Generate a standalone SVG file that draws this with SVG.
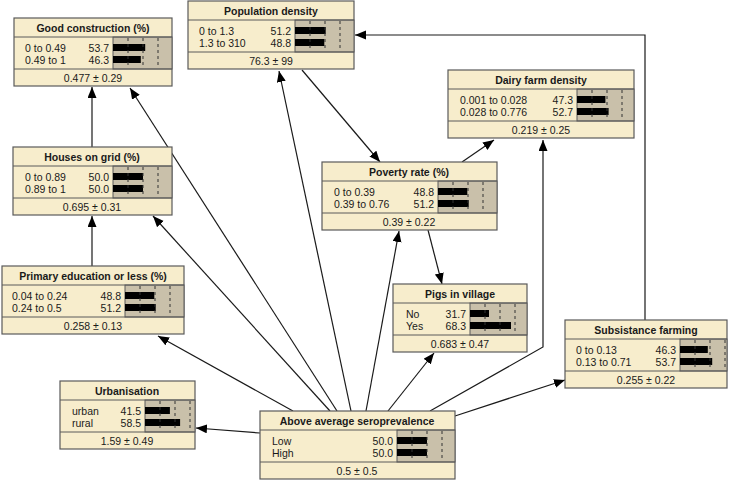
<svg xmlns="http://www.w3.org/2000/svg" width="740" height="480" viewBox="0 0 740 480">
<style>
.box{fill:#f7edcc;stroke:#5a5a5a;stroke-width:1.2}
.bg{fill:#c9c0aa;stroke:#5a5a5a;stroke-width:1}
.div{stroke:#5a5a5a;stroke-width:1}
.dash{stroke:#333;stroke-width:1;stroke-dasharray:3,3}
.bar{fill:#000}
.t{font-family:"Liberation Sans",Arial,sans-serif;font-size:10.5px;fill:#1a1a1a}
.ti{font-weight:bold;text-anchor:middle}
.c{text-anchor:middle}
.n{text-anchor:end}
.e{fill:none;stroke:#1a1a1a;stroke-width:1.2;marker-end:url(#ah)}
</style>
<defs>
<marker id="ah" markerUnits="userSpaceOnUse" markerWidth="12" markerHeight="10" refX="11" refY="4.5" orient="auto">
<path d="M0,0 L11,4.5 L0,9 Z" fill="#000"/>
</marker>
</defs>
<g id="connectors">
<path class="e" d="M92,147 L92,87"/>
<path class="e" d="M92,266 L92,216"/>
<path class="e" d="M337,411 L130,88"/>
<path class="e" d="M351,411 L279,71"/>
<path class="e" d="M330,411 L153,216"/>
<path class="e" d="M293,411 L158,336"/>
<path class="e" d="M260,433 L196,428"/>
<path class="e" d="M366,411 L399,231"/>
<path class="e" d="M388,411 L434,353"/>
<path class="e" d="M430,411 L543,347 L543,140"/>
<path class="e" d="M455,416 L565,380"/>
<path class="e" d="M302,70 L380,162"/>
<path class="e" d="M462,162 L494,140"/>
<path class="e" d="M428,230 L442,284"/>
<path class="e" d="M645,320 L645,35 L355,35"/>
</g>
<g id="good_construction">
<rect class="box" x="14" y="18" width="158" height="68"/>
<rect class="bg" x="113" y="37" width="59" height="32"/>
<line class="div" x1="14" y1="37" x2="172" y2="37"/><line class="div" x1="14" y1="69" x2="172" y2="69"/>
<rect class="bar" x="113" y="44" width="32.2" height="7"/><rect class="bar" x="113" y="56" width="27.8" height="7"/>
<line class="dash" x1="128" y1="38" x2="128" y2="68"/><line class="dash" x1="143" y1="38" x2="143" y2="68"/><line class="dash" x1="158" y1="38" x2="158" y2="68"/>
<text class="t ti" x="93" y="32">Good construction (%)</text>
<text class="t" x="25" y="52">0 to 0.49</text><text class="t n" x="109" y="52">53.7</text>
<text class="t" x="25" y="64">0.49 to 1</text><text class="t n" x="109" y="64">46.3</text>
<text class="t c" x="93" y="82">0.477 ± 0.29</text>
</g>
<g id="population_density">
<rect class="box" x="188" y="1" width="166" height="68"/>
<rect class="bg" x="295" y="20" width="59" height="32"/>
<line class="div" x1="188" y1="20" x2="354" y2="20"/><line class="div" x1="188" y1="52" x2="354" y2="52"/>
<rect class="bar" x="295" y="27" width="30.7" height="7"/><rect class="bar" x="295" y="39" width="29.3" height="7"/>
<line class="dash" x1="310" y1="21" x2="310" y2="51"/><line class="dash" x1="325" y1="21" x2="325" y2="51"/><line class="dash" x1="340" y1="21" x2="340" y2="51"/>
<text class="t ti" x="271" y="15">Population density</text>
<text class="t" x="199" y="35">0 to 1.3</text><text class="t n" x="291" y="35">51.2</text>
<text class="t" x="199" y="47">1.3 to 310</text><text class="t n" x="291" y="47">48.8</text>
<text class="t c" x="271" y="65">76.3 ± 99</text>
</g>
<g id="dairy_farm_density">
<rect class="box" x="448" y="70" width="186" height="68"/>
<rect class="bg" x="577" y="89" width="57" height="32"/>
<line class="div" x1="448" y1="89" x2="634" y2="89"/><line class="div" x1="448" y1="121" x2="634" y2="121"/>
<rect class="bar" x="577" y="96" width="28.4" height="7"/><rect class="bar" x="577" y="108" width="31.6" height="7"/>
<line class="dash" x1="592" y1="90" x2="592" y2="120"/><line class="dash" x1="607" y1="90" x2="607" y2="120"/><line class="dash" x1="622" y1="90" x2="622" y2="120"/>
<text class="t ti" x="541" y="84">Dairy farm density</text>
<text class="t" x="460" y="104">0.001 to 0.028</text><text class="t n" x="573" y="104">47.3</text>
<text class="t" x="460" y="116">0.028 to 0.776</text><text class="t n" x="573" y="116">52.7</text>
<text class="t c" x="541" y="134">0.219 ± 0.25</text>
</g>
<g id="houses_on_grid">
<rect class="box" x="13" y="147" width="159" height="68"/>
<rect class="bg" x="113" y="166" width="59" height="32"/>
<line class="div" x1="13" y1="166" x2="172" y2="166"/><line class="div" x1="13" y1="198" x2="172" y2="198"/>
<rect class="bar" x="113" y="173" width="30" height="7"/><rect class="bar" x="113" y="185" width="30" height="7"/>
<line class="dash" x1="128" y1="167" x2="128" y2="197"/><line class="dash" x1="143" y1="167" x2="143" y2="197"/><line class="dash" x1="158" y1="167" x2="158" y2="197"/>
<text class="t ti" x="92" y="161">Houses on grid (%)</text>
<text class="t" x="25" y="181">0 to 0.89</text><text class="t n" x="109" y="181">50.0</text>
<text class="t" x="25" y="193">0.89 to 1</text><text class="t n" x="109" y="193">50.0</text>
<text class="t c" x="92" y="211">0.695 ± 0.31</text>
</g>
<g id="poverty_rate">
<rect class="box" x="322" y="162" width="175" height="68"/>
<rect class="bg" x="438" y="181" width="59" height="32"/>
<line class="div" x1="322" y1="181" x2="497" y2="181"/><line class="div" x1="322" y1="213" x2="497" y2="213"/>
<rect class="bar" x="438" y="188" width="29.3" height="7"/><rect class="bar" x="438" y="200" width="30.7" height="7"/>
<line class="dash" x1="453" y1="182" x2="453" y2="212"/><line class="dash" x1="468" y1="182" x2="468" y2="212"/><line class="dash" x1="483" y1="182" x2="483" y2="212"/>
<text class="t ti" x="409" y="176">Poverty rate (%)</text>
<text class="t" x="334" y="196">0 to 0.39</text><text class="t n" x="434" y="196">48.8</text>
<text class="t" x="334" y="208">0.39 to 0.76</text><text class="t n" x="434" y="208">51.2</text>
<text class="t c" x="409" y="226">0.39 ± 0.22</text>
</g>
<g id="primary_education">
<rect class="box" x="2" y="266" width="182" height="68"/>
<rect class="bg" x="125" y="285" width="59" height="32"/>
<line class="div" x1="2" y1="285" x2="184" y2="285"/><line class="div" x1="2" y1="317" x2="184" y2="317"/>
<rect class="bar" x="125" y="292" width="29.3" height="7"/><rect class="bar" x="125" y="304" width="30.7" height="7"/>
<line class="dash" x1="140" y1="286" x2="140" y2="316"/><line class="dash" x1="155" y1="286" x2="155" y2="316"/><line class="dash" x1="170" y1="286" x2="170" y2="316"/>
<text class="t ti" x="93" y="280">Primary education or less (%)</text>
<text class="t" x="12" y="300">0.04 to 0.24</text><text class="t n" x="121" y="300">48.8</text>
<text class="t" x="12" y="312">0.24 to 0.5</text><text class="t n" x="121" y="312">51.2</text>
<text class="t c" x="93" y="330">0.258 ± 0.13</text>
</g>
<g id="pigs_in_village">
<rect class="box" x="393" y="284" width="134" height="68"/>
<rect class="bg" x="470" y="303" width="57" height="32"/>
<line class="div" x1="393" y1="303" x2="527" y2="303"/><line class="div" x1="393" y1="335" x2="527" y2="335"/>
<rect class="bar" x="470" y="310" width="19" height="7"/><rect class="bar" x="470" y="322" width="41" height="7"/>
<line class="dash" x1="485" y1="304" x2="485" y2="334"/><line class="dash" x1="500" y1="304" x2="500" y2="334"/><line class="dash" x1="515" y1="304" x2="515" y2="334"/>
<text class="t ti" x="460" y="298">Pigs in village</text>
<text class="t" x="406" y="318">No</text><text class="t n" x="466" y="318">31.7</text>
<text class="t" x="406" y="330">Yes</text><text class="t n" x="466" y="330">68.3</text>
<text class="t c" x="460" y="348">0.683 ± 0.47</text>
</g>
<g id="subsistance_farming">
<rect class="box" x="565" y="320" width="162" height="68"/>
<rect class="bg" x="680" y="339" width="47" height="32"/>
<line class="div" x1="565" y1="339" x2="727" y2="339"/><line class="div" x1="565" y1="371" x2="727" y2="371"/>
<rect class="bar" x="680" y="346" width="27.8" height="7"/><rect class="bar" x="680" y="358" width="32.2" height="7"/>
<line class="dash" x1="695" y1="340" x2="695" y2="370"/><line class="dash" x1="710" y1="340" x2="710" y2="370"/><line class="dash" x1="725" y1="340" x2="725" y2="370"/>
<text class="t ti" x="646" y="334">Subsistance farming</text>
<text class="t" x="576" y="354">0 to 0.13</text><text class="t n" x="676" y="354">46.3</text>
<text class="t" x="576" y="366">0.13 to 0.71</text><text class="t n" x="676" y="366">53.7</text>
<text class="t c" x="646" y="384">0.255 ± 0.22</text>
</g>
<g id="urbanisation">
<rect class="box" x="60" y="381" width="135" height="68"/>
<rect class="bg" x="145" y="400" width="50" height="32"/>
<line class="div" x1="60" y1="400" x2="195" y2="400"/><line class="div" x1="60" y1="432" x2="195" y2="432"/>
<rect class="bar" x="145" y="407" width="24.9" height="7"/><rect class="bar" x="145" y="419" width="35.1" height="7"/>
<line class="dash" x1="160" y1="401" x2="160" y2="431"/><line class="dash" x1="175" y1="401" x2="175" y2="431"/><line class="dash" x1="190" y1="401" x2="190" y2="431"/>
<text class="t ti" x="127" y="395">Urbanisation</text>
<text class="t" x="72" y="415">urban</text><text class="t n" x="141" y="415">41.5</text>
<text class="t" x="72" y="427">rural</text><text class="t n" x="141" y="427">58.5</text>
<text class="t c" x="127" y="445">1.59 ± 0.49</text>
</g>
<g id="above_average_seroprevalence">
<rect class="box" x="260" y="411" width="195" height="68"/>
<rect class="bg" x="397" y="430" width="58" height="32"/>
<line class="div" x1="260" y1="430" x2="455" y2="430"/><line class="div" x1="260" y1="462" x2="455" y2="462"/>
<rect class="bar" x="397" y="437" width="30" height="7"/><rect class="bar" x="397" y="449" width="30" height="7"/>
<line class="dash" x1="412" y1="431" x2="412" y2="461"/><line class="dash" x1="427" y1="431" x2="427" y2="461"/><line class="dash" x1="442" y1="431" x2="442" y2="461"/>
<text class="t ti" x="357" y="425">Above average seroprevalence</text>
<text class="t" x="272" y="445">Low</text><text class="t n" x="393" y="445">50.0</text>
<text class="t" x="272" y="457">High</text><text class="t n" x="393" y="457">50.0</text>
<text class="t c" x="357" y="475">0.5 ± 0.5</text>
</g>
</svg>
